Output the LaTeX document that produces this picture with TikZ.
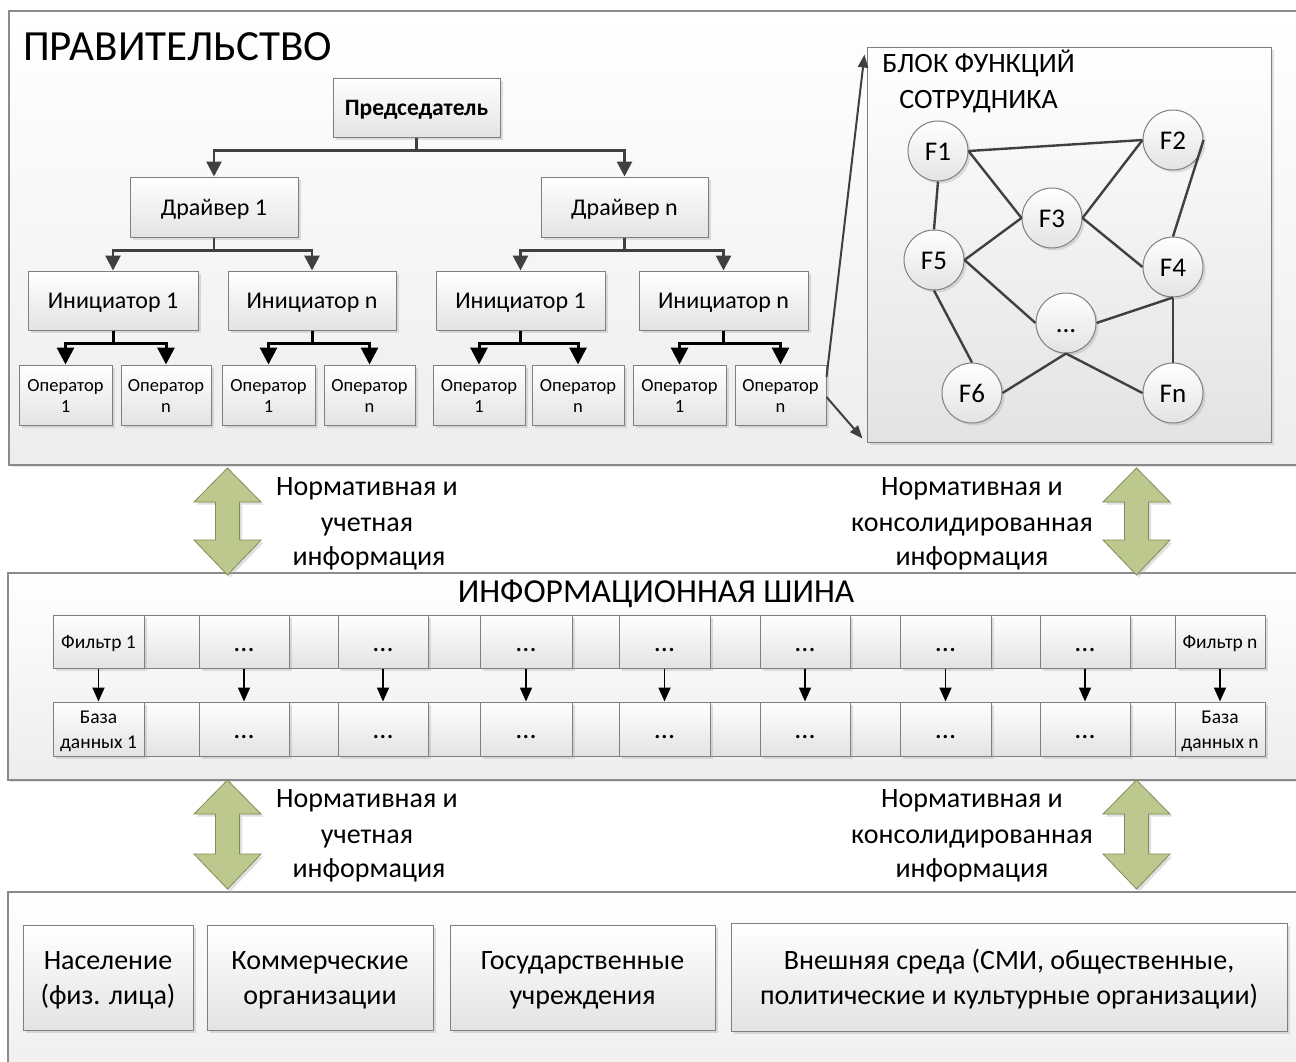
\documentclass[tikz,border=0pt]{standalone}
\usepackage{fontspec}
\setmainfont{Carlito}
\usetikzlibrary{arrows.meta,shadows,calc}

\definecolor{panelline}{HTML}{8A8A8A}
\definecolor{panelbottom}{HTML}{EDEDED}
\definecolor{boxline}{HTML}{7F7F7F}
\definecolor{boxbottom}{HTML}{E3E3E3}
\definecolor{linkgray}{HTML}{404040}
\definecolor{arrowfill}{HTML}{BCC88E}
\definecolor{arrowline}{HTML}{7E8D55}

% line struts: full ascent and descent of a text line
\newcommand{\ls}{\rule[-0.269em]{0pt}{1.221em}}
\newcommand{\lso}{\rule[-0.18em]{0pt}{1.13em}}

\newcommand{\infoarrow}[3]{% centre x, top tip y, bottom tip y
  \path[greenarrow] (#1,#2) -- ++(33.5,34) -- ++(-21.5,0) -- (#1+12,#3-35)
    -- ++(21.5,0) -- (#1,#3) -- ++(-33.5,-35) -- ++(21.5,0) -- (#1-12,#2+34)
    -- ++(-21.5,0) -- cycle;}

\begin{document}
\begin{tikzpicture}[x=1pt,y=-1pt,
  softshadow/.style={drop shadow={shadow xshift=2.5pt,shadow yshift=-2.5pt,fill=black!35,opacity=0.35}},
  panel/.style={draw=panelline,line width=1.2pt,top color=white,bottom color=panelbottom,
    drop shadow={shadow xshift=1.5pt,shadow yshift=-1.5pt,fill=black!30,opacity=0.3}},
  box/.style={draw=boxline,line width=1pt,top color=white,bottom color=boxbottom,
    softshadow,inner sep=0pt,align=center,text=black},
  blank/.style={draw=boxline,line width=1pt,top color=white,bottom color=boxbottom},
  func/.style={circle,draw=boxline,line width=1pt,top color=white,bottom color=boxbottom,
    softshadow,minimum size=60pt,inner sep=0pt,font=\fontsize{27}{33}\selectfont},
  greenarrow/.style={fill=arrowfill,draw=arrowline,line width=0.8pt,line join=miter,softshadow},
  fpred/.style={font=\fontsize{23.5}{28.7}\selectfont\bfseries},
  fmid/.style={font=\fontsize{24}{29.3}\selectfont},
  fop/.style={font=\fontsize{18.5}{21}\selectfont},
  fbig/.style={font=\fontsize{28}{35}\selectfont},
  fcell/.style={font=\fontsize{19.5}{25}\selectfont},
  fdots/.style={font=\fontsize{28}{34.2}\selectfont},
  plain/.style={inner sep=0pt,text=black},
  conn/.style={draw=linkgray,line width=2.8pt,-{Triangle[length=15pt,width=15pt]}},
  opconn/.style={draw=black,line width=3pt,-{Triangle[length=17pt,width=17pt]}},
  cellconn/.style={draw=black,line width=1.8pt,-{Triangle[length=14pt,width=12pt]}},
  zoomconn/.style={draw=linkgray,line width=2pt,-{Triangle[length=13pt,width=10pt]}},
  fedge/.style={draw=linkgray,line width=2.4pt}]

\useasboundingbox (0,0) rectangle (1296,1061);
\clip (0,0) rectangle (1296,1061);
\fill[white] (0,0) rectangle (1296,1061);

% three horizontal layers
\path[panel] (9,11) rectangle (1320,465);
\path[panel] (8,573) rectangle (1320,780);
\path[panel] (8,892) rectangle (1320,1090);

% ---------- government ----------
\node[plain,anchor=base west,font=\fontsize{43}{50}\selectfont] (gov) at (23,60) {ПРАВИТЕЛЬСТВО};

\node[box,fpred,minimum width=167pt,minimum height=59pt] (pred) at (416.5,107.5) {\ls Председатель};

\node[box,fmid,minimum width=168pt,minimum height=60pt] (dr1) at (214,207) {\ls Драйвер 1};
\node[box,fmid,minimum width=167pt,minimum height=60pt] (drn) at (624.5,207) {\ls Драйвер n};

\node[box,fmid,minimum width=170pt,minimum height=59pt] (in11) at (113,300.5) {\ls Инициатор 1};
\node[box,fmid,minimum width=168pt,minimum height=59pt] (in1n) at (312,300.5) {\ls Инициатор n};
\node[box,fmid,minimum width=169pt,minimum height=59pt] (in21) at (520.5,300.5) {\ls Инициатор 1};
\node[box,fmid,minimum width=169pt,minimum height=59pt] (in2n) at (723.5,300.5) {\ls Инициатор n};

\node[box,fop,minimum width=93pt,minimum height=60pt] (op1) at (65.5,395) {\lso Оператор\\\lso 1};
\node[box,fop,minimum width=90pt,minimum height=60pt] (op2) at (166,395) {\lso Оператор\\\lso n};
\node[box,fop,minimum width=93pt,minimum height=60pt] (op3) at (268.5,395) {\lso Оператор\\\lso 1};
\node[box,fop,minimum width=91pt,minimum height=60pt] (op4) at (369.5,395) {\lso Оператор\\\lso n};
\node[box,fop,minimum width=92pt,minimum height=60pt] (op5) at (479,395) {\lso Оператор\\\lso 1};
\node[box,fop,minimum width=92pt,minimum height=60pt] (op6) at (578,395) {\lso Оператор\\\lso n};
\node[box,fop,minimum width=93pt,minimum height=60pt] (op7) at (679.5,395) {\lso Оператор\\\lso 1};
\node[box,fop,minimum width=91pt,minimum height=60pt] (op8) at (780.5,395) {\lso Оператор\\\lso n};

\draw[conn] (pred.south) -- ++(0,13) -| (dr1.north);
\draw[conn] (pred.south) -- ++(0,13) -| (drn.north);
\draw[conn] (dr1.south) -- ++(0,13) -| (in11.north);
\draw[conn] (dr1.south) -- ++(0,13) -| (in1n.north);
\draw[conn] (drn.south) -- ++(0,13) -| (in21.north);
\draw[conn] (drn.south) -- ++(0,13) -| (in2n.north);

\draw[opconn] (in11.south) -- ++(0,13) -| (op1.north);
\draw[opconn] (in11.south) -- ++(0,13) -| (op2.north);
\draw[opconn] (in1n.south) -- ++(0,13) -| (op3.north);
\draw[opconn] (in1n.south) -- ++(0,13) -| (op4.north);
\draw[opconn] (in21.south) -- ++(0,13) -| (op5.north);
\draw[opconn] (in21.south) -- ++(0,13) -| (op6.north);
\draw[opconn] (in2n.south) -- ++(0,13) -| (op7.north);
\draw[opconn] (in2n.south) -- ++(0,13) -| (op8.north);

% ---------- block of an employee's functions ----------
\node[box,minimum width=404pt,minimum height=395pt] (blok) at (1069,244.5) {};
\node[plain,fbig,anchor=base] (blokA) at (978.5,72) {БЛОК ФУНКЦИЙ};
\node[plain,fbig,anchor=base] (blokB) at (978.5,108) {СОТРУДНИКА};

\coordinate (zA) at ($(op8.east)+(0,-18)$);
\coordinate (zB) at ($(op8.east)+(0,2)$);
\coordinate (zAt) at ($(blok.north west)+(-2,8)$);
\coordinate (zBt) at ($(blok.south west)+(-4,-4)$);
\draw[zoomconn] (zA) -- (zAt);
\draw[zoomconn] (zB) -- (zBt);

\node[func] (F1) at (938,151) {\ls F1};
\node[func] (F2) at (1173,140) {\ls F2};
\node[func] (F3) at (1052,218) {\ls F3};
\node[func] (F5) at (934,260) {\ls F5};
\node[func] (F4) at (1173,267) {\ls F4};
\node[func] (Fd) at (1066,323) {\ls ...};
\node[func] (F6) at (972,393) {\ls F6};
\node[func] (Fn) at (1173,393) {\ls Fn};

\draw[fedge] (F1.east) -- (F2.west);
\draw[fedge] (F1.east) -- (F3.west);
\draw[fedge] (F2.west) -- (F3.east);
\draw[fedge] (F1.south) -- (F5.north);
\draw[fedge] (F5.east) -- (F3.west);
\draw[fedge] (F3.east) -- (F4.west);
\draw[fedge] (F2.east) -- (F4.north);
\draw[fedge] (F5.east) -- (Fd.west);
\draw[fedge] (F4.south) -- (Fd.east);
\draw[fedge] (F4.south) -- (Fn.north);
\draw[fedge] (F5.south) -- (F6.north);
\draw[fedge] (Fd.south) -- (F6.east);
\draw[fedge] (Fd.south) -- (Fn.west);

% ---------- exchange arrows and their captions ----------
\infoarrow{227.5}{468}{575}
\infoarrow{1136.5}{468}{575}
\infoarrow{227.5}{780}{889}
\infoarrow{1136.5}{780}{889}

\node[plain,fbig,anchor=base] (ta1) at (367,495) {Нормативная и};
\node[plain,fbig,anchor=base] (ta2) at (367,531) {учетная};
\node[plain,fbig,anchor=base] (ta3) at (369,565) {информация};
\node[plain,fbig,anchor=base] (tb1) at (972,495) {Нормативная и};
\node[plain,fbig,anchor=base] (tb2) at (972,531) {консолидированная};
\node[plain,fbig,anchor=base] (tb3) at (972,565) {информация};
\node[plain,fbig,anchor=base] (tc1) at (367,807) {Нормативная и};
\node[plain,fbig,anchor=base] (tc2) at (367,843) {учетная};
\node[plain,fbig,anchor=base] (tc3) at (369,877) {информация};
\node[plain,fbig,anchor=base] (td1) at (972,807) {Нормативная и};
\node[plain,fbig,anchor=base] (td2) at (972,843) {консолидированная};
\node[plain,fbig,anchor=base] (td3) at (972,877) {информация};

% ---------- information bus ----------
\node[plain,anchor=base,font=\fontsize{33.5}{40}\selectfont] (bus) at (656,602) {ИНФОРМАЦИОННАЯ ШИНА};

\foreach \xl/\xr in {144/199,289/338,428/480,572/619,710/760,850/900,991/1040,1130/1175}{
  \path[blank] (\xl,615) rectangle (\xr,668);
  \path[blank] (\xl,702) rectangle (\xr,756);
}

\node[box,fcell,minimum width=91pt,minimum height=53pt] (f1) at (98.5,641.5) {\ls Фильтр 1};
\node[box,fdots,minimum width=90pt,minimum height=53pt] (f2) at (244,641.5) {\ls ...};
\node[box,fdots,minimum width=90pt,minimum height=53pt] (f3) at (383,641.5) {\ls ...};
\node[box,fdots,minimum width=92pt,minimum height=53pt] (f4) at (526,641.5) {\ls ...};
\node[box,fdots,minimum width=91pt,minimum height=53pt] (f5) at (664.5,641.5) {\ls ...};
\node[box,fdots,minimum width=90pt,minimum height=53pt] (f6) at (805,641.5) {\ls ...};
\node[box,fdots,minimum width=91pt,minimum height=53pt] (f7) at (945.5,641.5) {\ls ...};
\node[box,fdots,minimum width=90pt,minimum height=53pt] (f8) at (1085,641.5) {\ls ...};
\node[box,fcell,minimum width=90pt,minimum height=53pt] (f9) at (1220,641.5) {\ls Фильтр n};

\node[box,fcell,minimum width=91pt,minimum height=54pt] (d1) at (98.5,729) {\ls База\\\ls данных 1};
\node[box,fdots,minimum width=90pt,minimum height=54pt] (d2) at (244,729) {\ls ...};
\node[box,fdots,minimum width=90pt,minimum height=54pt] (d3) at (383,729) {\ls ...};
\node[box,fdots,minimum width=92pt,minimum height=54pt] (d4) at (526,729) {\ls ...};
\node[box,fdots,minimum width=91pt,minimum height=54pt] (d5) at (664.5,729) {\ls ...};
\node[box,fdots,minimum width=90pt,minimum height=54pt] (d6) at (805,729) {\ls ...};
\node[box,fdots,minimum width=91pt,minimum height=54pt] (d7) at (945.5,729) {\ls ...};
\node[box,fdots,minimum width=90pt,minimum height=54pt] (d8) at (1085,729) {\ls ...};
\node[box,fcell,minimum width=90pt,minimum height=54pt] (d9) at (1220,729) {\ls База\\\ls данных n};

\foreach \i in {1,...,9}{
  \draw[cellconn] (f\i.south) -- (d\i.north);
}

% ---------- outer environment ----------
\node[box,fbig,minimum width=170pt,minimum height=105pt] (nas) at (108,977.5) {\ls Население\\\ls (физ. лица)};
\node[box,fbig,minimum width=226pt,minimum height=105pt] (kom) at (320,977.5) {\ls Коммерческие\\\ls организации};
\node[box,fbig,minimum width=265pt,minimum height=105pt] (gos) at (582.5,977.5) {\ls Государственные\\\ls учреждения};
\node[box,fbig,minimum width=556pt,minimum height=108pt] (vne) at (1009,977.5) {\ls Внешняя среда (СМИ, общественные,\\\ls политические и культурные организации)};

\end{tikzpicture}
\end{document}
